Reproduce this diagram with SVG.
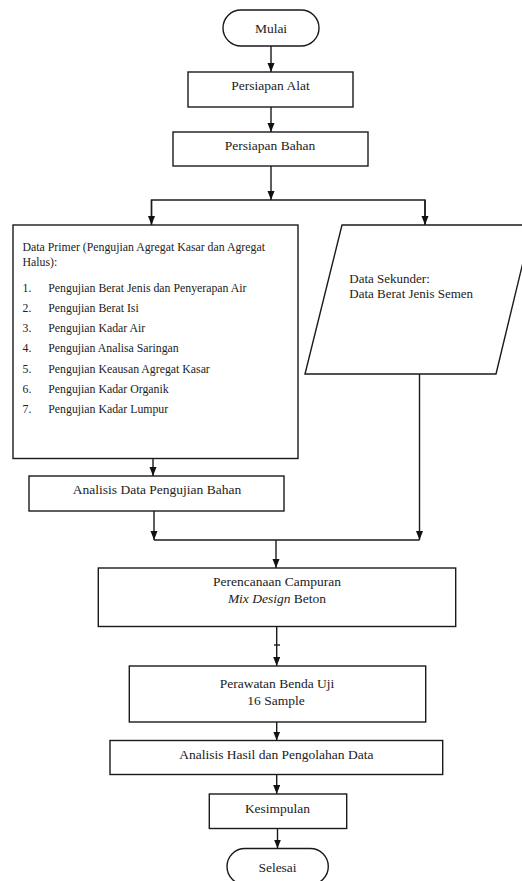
<svg xmlns="http://www.w3.org/2000/svg" width="522" height="881" viewBox="0 0 522 881" font-family="'Liberation Serif', 'Times New Roman', 'DejaVu Serif', serif">
<defs>
<marker id="ah" markerUnits="userSpaceOnUse" markerWidth="9" markerHeight="8" refX="9" refY="3.5" orient="auto">
<path d="M0,0 L9,3.5 L0,7 z" fill="#111"/>
</marker>
<style>
.box{fill:#fff;stroke:#1a1a1a;stroke-width:1.4}
.ln{fill:none;stroke:#1a1a1a;stroke-width:1.4}
.arr{fill:none;stroke:#1a1a1a;stroke-width:1.4;marker-end:url(#ah)}
text{fill:#222}
.t{font-size:13.5px;text-anchor:middle}
.s{font-size:11.8px}
.k{font-size:13px}
</style>
</defs>
<rect width="522" height="881" fill="#fff"/>
<g id="connectors">
<line class="arr" x1="271" y1="46" x2="271" y2="72"/>
<line class="arr" x1="271" y1="107" x2="271" y2="132"/>
<line class="arr" x1="271" y1="166" x2="271" y2="200"/>
<polyline class="ln" points="151.5,225 151.5,200 425,200 425,224"/>
<line class="arr" x1="151.5" y1="200" x2="151.5" y2="225"/>
<line class="arr" x1="425" y1="200" x2="425" y2="225"/>
<line class="arr" x1="153" y1="458.5" x2="153" y2="476"/>
<line class="arr" x1="154" y1="511" x2="154" y2="540"/>
<line class="arr" x1="419.5" y1="374" x2="419.5" y2="540"/>
<line class="ln" x1="154" y1="540" x2="419.5" y2="540"/>
<line class="arr" x1="276" y1="540" x2="276" y2="568"/>
<line class="arr" x1="276.7" y1="626.5" x2="276.7" y2="666"/>
<line class="ln" x1="274" y1="645" x2="280" y2="645"/>
<line class="arr" x1="276.7" y1="722" x2="276.7" y2="740.5"/>
<line class="arr" x1="276.7" y1="774.5" x2="276.7" y2="794"/>
<line class="arr" x1="277.5" y1="828.5" x2="277.5" y2="848.5"/>
</g>
<g id="mulai">
<rect class="box" x="223" y="10" width="96" height="36" rx="18" ry="18"/>
<text class="t" x="271" y="33">Mulai</text>
</g>
<g id="persiapan-alat">
<rect class="box" x="188" y="72" width="165" height="35"/>
<text class="t" x="270.5" y="90">Persiapan Alat</text>
</g>
<g id="persiapan-bahan">
<rect class="box" x="173" y="132" width="195" height="34"/>
<text class="t" x="270" y="150">Persiapan Bahan</text>
</g>
<g id="data-primer">
<rect class="box" x="13" y="225" width="285" height="233.5"/>
<text class="s" x="22.5" y="251">Data Primer (Pengujian Agregat Kasar dan Agregat</text>
<text class="s" x="22.5" y="266">Halus):</text>
<text class="s" x="22.5" y="292">1.</text><text class="s" x="48.3" y="292">Pengujian Berat Jenis dan Penyerapan Air</text>
<text class="s" x="22.5" y="312">2.</text><text class="s" x="48.3" y="312">Pengujian Berat Isi</text>
<text class="s" x="22.5" y="332">3.</text><text class="s" x="48.3" y="332">Pengujian Kadar Air</text>
<text class="s" x="22.5" y="352">4.</text><text class="s" x="48.3" y="352">Pengujian Analisa Saringan</text>
<text class="s" x="22.5" y="373">5.</text><text class="s" x="48.3" y="373">Pengujian Keausan Agregat Kasar</text>
<text class="s" x="22.5" y="393">6.</text><text class="s" x="48.3" y="393">Pengujian Kadar Organik</text>
<text class="s" x="22.5" y="413">7.</text><text class="s" x="48.3" y="413">Pengujian Kadar Lumpur</text>
</g>
<g id="data-sekunder">
<polygon class="box" points="342,225 532,225 496,374 305,374"/>
<text class="k" x="349.3" y="283">Data Sekunder:</text>
<text class="k" x="349.3" y="298">Data Berat Jenis Semen</text>
</g>
<g id="analisis-data">
<rect class="box" x="29" y="476" width="255" height="35"/>
<text class="t" x="157" y="494">Analisis Data Pengujian Bahan</text>
</g>
<g id="perencanaan">
<rect class="box" x="98.3" y="568" width="357.4" height="58.5"/>
<text class="t" x="277" y="586">Perencanaan Campuran</text>
<text class="t" x="277" y="603.3"><tspan font-style="italic">Mix Design</tspan> Beton</text>
</g>
<g id="perawatan">
<rect class="box" x="129.3" y="666" width="296.4" height="56"/>
<text class="t" x="277" y="688.3">Perawatan Benda Uji</text>
<text class="t" x="276" y="705">16 Sample</text>
</g>
<g id="analisis-hasil">
<rect class="box" x="110" y="740.5" width="332.7" height="34"/>
<text class="t" x="276.3" y="759.3">Analisis Hasil dan Pengolahan Data</text>
</g>
<g id="kesimpulan">
<rect class="box" x="209.3" y="794" width="137.4" height="34.5"/>
<text class="t" x="277.5" y="812.7">Kesimpulan</text>
</g>
<g id="selesai">
<rect class="box" x="227" y="848.5" width="101.3" height="36" rx="18" ry="18"/>
<text class="t" x="277.5" y="872.3">Selesai</text>
</g>
</svg>
